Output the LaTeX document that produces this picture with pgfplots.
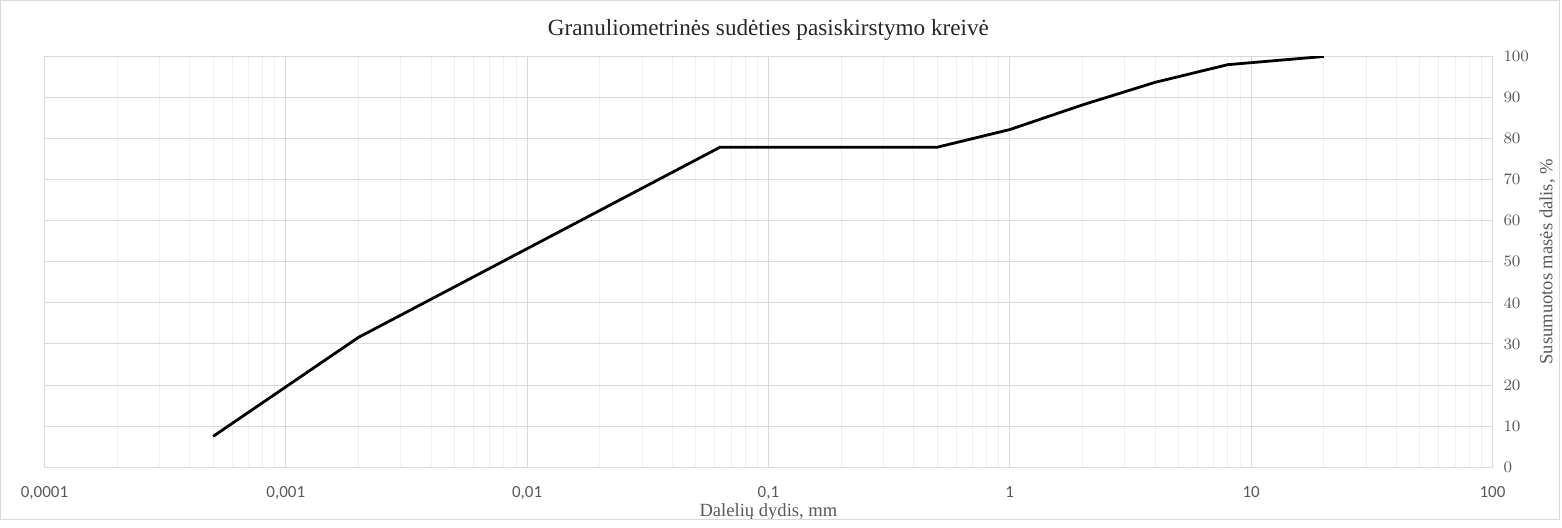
\documentclass[border=0pt]{standalone}
\usepackage{fontspec}
\setmainfont{Liberation Serif}
\newfontfamily\calibri{Carlito}
\usepackage{pgfplots}
\pgfplotsset{compat=1.18}
\definecolor{txt}{HTML}{595959}
\definecolor{majgrid}{HTML}{D9D9D9}
\definecolor{mingrid}{HTML}{F0F0F0}

\begin{document}
\begin{tikzpicture}
\begin{axis}[
    scale only axis,
    width=724.5pt, height=205.5pt,
    xmode=log, log basis x=10,
    xmin=1e-4, xmax=100, ymin=0, ymax=100,
    xtick={1e-4,1e-3,1e-2,1e-1,1,10,100},
    xticklabels={{0,0001},{0,001},{0,01},{0,1},1,10,100},
    minor xtick={2e-4,3e-4,4e-4,5e-4,6e-4,7e-4,8e-4,9e-4,
                 2e-3,3e-3,4e-3,5e-3,6e-3,7e-3,8e-3,9e-3,
                 2e-2,3e-2,4e-2,5e-2,6e-2,7e-2,8e-2,9e-2,
                 0.2,0.3,0.4,0.5,0.6,0.7,0.8,0.9,
                 2,3,4,5,6,7,8,9,
                 20,30,40,50,60,70,80,90},
    ytick={0,10,...,100},
    yticklabel pos=right,
    xmajorgrids, xminorgrids, ymajorgrids,
    major grid style={draw=majgrid, line width=0.5pt},
    minor grid style={draw=mingrid, line width=0.5pt},
    axis line style={draw=majgrid, line width=0.6pt},
    major tick length=0pt, minor tick length=0pt,
    tick label style={font=\calibri\fontsize{8.5}{10}\selectfont, text=txt},
    xticklabel style={yshift=-6pt},
    yticklabel style={xshift=2pt},
    title={Granuliometrinės sudėties pasiskirstymo kreivė},
    every axis title/.style={at={(axis description cs:0.5,1)}, anchor=center,
        yshift=13.5pt, font=\fontsize{11.6}{13}\selectfont, text=black!85},
    xlabel={Dalelių dydis, mm},
    ylabel={Susumuotos masės dalis, \%},
    every axis x label/.style={at={(axis description cs:0.5,0)}, anchor=center,
        yshift=-22.5pt, font=\fontsize{9.3}{11}\selectfont, text=txt},
    every axis y label/.style={at={(axis description cs:1.038,0.5)}, anchor=center,
        rotate=90, font=\fontsize{9.3}{11}\selectfont, text=txt},
]
\addplot[black, line width=1.4pt, line join=round] coordinates {
    (0.0005,7.5) (0.002,31.6) (0.063,77.9) (0.5,77.9) (1,82.2)
    (2,88.2) (4,93.7) (8,98) (20,100)
};
\end{axis}
\draw[majgrid, line width=0.5pt] (-22pt,-26.2pt) rectangle (758.2pt,233.5pt);
\end{tikzpicture}
\end{document}
